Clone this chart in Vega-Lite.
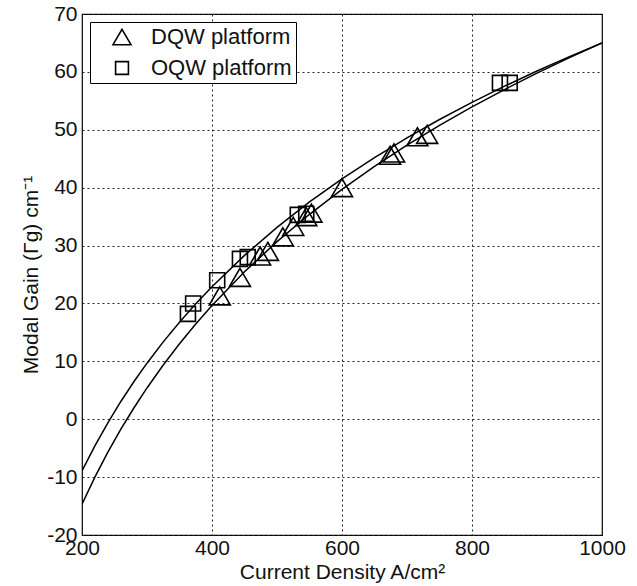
{
  "$schema": "https://vega.github.io/schema/vega-lite/v6.json",
  "width": 520,
  "height": 521,
  "autosize": {"type": "none"},
  "padding": {"left": 82, "top": 14, "right": 35, "bottom": 51},
  "background": "white",
  "datasets": {
    "curves": [
      {"fit": "OQW", "J": 200, "G": -8.94}, {"fit": "OQW", "J": 220, "G": -4.57}, {"fit": "OQW", "J": 240, "G": -0.57}, {"fit": "OQW", "J": 260, "G": 3.11}, {"fit": "OQW", "J": 280, "G": 6.51}, {"fit": "OQW", "J": 300, "G": 9.68}, {"fit": "OQW", "J": 325, "G": 13.36}, {"fit": "OQW", "J": 350, "G": 16.76}, {"fit": "OQW", "J": 375, "G": 19.93}, {"fit": "OQW", "J": 400, "G": 22.9}, {"fit": "OQW", "J": 450, "G": 28.31}, {"fit": "OQW", "J": 500, "G": 33.15}, {"fit": "OQW", "J": 550, "G": 37.53}, {"fit": "OQW", "J": 600, "G": 41.53}, {"fit": "OQW", "J": 650, "G": 45.2}, {"fit": "OQW", "J": 700, "G": 48.61}, {"fit": "OQW", "J": 750, "G": 51.78}, {"fit": "OQW", "J": 800, "G": 54.74}, {"fit": "OQW", "J": 850, "G": 57.53}, {"fit": "OQW", "J": 900, "G": 60.15}, {"fit": "OQW", "J": 950, "G": 62.64}, {"fit": "OQW", "J": 1000, "G": 65.0},
      {"fit": "DQW", "J": 200, "G": -14.67}, {"fit": "DQW", "J": 220, "G": -9.95}, {"fit": "DQW", "J": 240, "G": -5.65}, {"fit": "DQW", "J": 260, "G": -1.68}, {"fit": "DQW", "J": 280, "G": 1.98}, {"fit": "DQW", "J": 300, "G": 5.4}, {"fit": "DQW", "J": 325, "G": 9.36}, {"fit": "DQW", "J": 350, "G": 13.03}, {"fit": "DQW", "J": 375, "G": 16.44}, {"fit": "DQW", "J": 400, "G": 19.64}, {"fit": "DQW", "J": 450, "G": 25.47}, {"fit": "DQW", "J": 500, "G": 30.68}, {"fit": "DQW", "J": 550, "G": 35.4}, {"fit": "DQW", "J": 600, "G": 39.71}, {"fit": "DQW", "J": 650, "G": 43.67}, {"fit": "DQW", "J": 700, "G": 47.34}, {"fit": "DQW", "J": 750, "G": 50.76}, {"fit": "DQW", "J": 800, "G": 53.95}, {"fit": "DQW", "J": 850, "G": 56.95}, {"fit": "DQW", "J": 900, "G": 59.78}, {"fit": "DQW", "J": 950, "G": 62.46}, {"fit": "DQW", "J": 1000, "G": 65.0}
    ],
    "points": [
      {"platform": "DQW platform", "J": 412, "G": 21.3},
      {"platform": "DQW platform", "J": 443, "G": 24.5},
      {"platform": "DQW platform", "J": 474, "G": 28.2},
      {"platform": "DQW platform", "J": 486, "G": 29.0},
      {"platform": "DQW platform", "J": 509, "G": 31.5},
      {"platform": "DQW platform", "J": 525, "G": 33.3},
      {"platform": "DQW platform", "J": 545, "G": 35.0},
      {"platform": "DQW platform", "J": 553, "G": 35.6},
      {"platform": "DQW platform", "J": 600, "G": 40.0},
      {"platform": "DQW platform", "J": 674, "G": 45.6},
      {"platform": "DQW platform", "J": 680, "G": 46.0},
      {"platform": "DQW platform", "J": 716, "G": 48.8},
      {"platform": "DQW platform", "J": 731, "G": 49.2},
      {"platform": "OQW platform", "J": 363, "G": 18.2},
      {"platform": "OQW platform", "J": 371, "G": 20.0},
      {"platform": "OQW platform", "J": 408, "G": 24.0},
      {"platform": "OQW platform", "J": 443, "G": 27.7},
      {"platform": "OQW platform", "J": 455, "G": 28.0},
      {"platform": "OQW platform", "J": 532, "G": 35.3},
      {"platform": "OQW platform", "J": 545, "G": 35.5},
      {"platform": "OQW platform", "J": 843, "G": 58.1},
      {"platform": "OQW platform", "J": 858, "G": 58.1}
    ]
  },
  "config": {
    "font": "Liberation Sans",
    "view": {"stroke": "black", "strokeWidth": 1.2},
    "axis": {
      "grid": true,
      "gridColor": "#222222",
      "gridDash": [2, 3],
      "gridWidth": 1,
      "gridOpacity": 1,
      "domain": false,
      "ticks": false,
      "labelFont": "Liberation Sans",
      "labelFontSize": 21,
      "labelColor": "#111111",
      "titleFont": "Liberation Sans",
      "titleFontSize": 21,
      "titleFontWeight": "normal",
      "titleColor": "#111111"
    },
    "legend": {
      "orient": "top-left",
      "offset": 8,
      "strokeColor": "black",
      "fillColor": "white",
      "padding": 4,
      "labelFont": "Liberation Sans",
      "labelFontSize": 22,
      "labelColor": "#111111",
      "rowPadding": 9,
      "symbolSize": 165,
      "symbolStrokeWidth": 1.6,
      "symbolStrokeColor": "black",
      "symbolFillColor": "transparent",
      "symbolOffset": 17,
      "labelOffset": 18,
      "labelLimit": 300
    }
  },
  "layer": [
    {
      "data": {"name": "curves"},
      "mark": {"type": "line", "color": "black", "strokeWidth": 1.5, "clip": true},
      "encoding": {
        "x": {
          "field": "J", "type": "quantitative",
          "scale": {"domain": [200, 1000], "nice": false},
          "axis": {"values": [200, 400, 600, 800, 1000], "labelExpr": "'' + datum.value", "title": "Current Density A/cm²", "labelPadding": 2, "titlePadding": 3, "labelFlush": false, "labelOverlap": false}
        },
        "y": {
          "field": "G", "type": "quantitative",
          "scale": {"domain": [-20, 70], "nice": false},
          "axis": {"values": [-20, -10, 0, 10, 20, 30, 40, 50, 60, 70], "labelExpr": "'' + datum.value", "title": "Modal Gain (Γg) cm⁻¹", "labelPadding": 5, "titlePadding": 5, "labelFlush": false, "labelOverlap": false}
        },
        "detail": {"field": "fit", "type": "nominal"},
        "order": {"field": "J", "type": "quantitative"}
      }
    },
    {
      "data": {"name": "points"},
      "mark": {"type": "point", "filled": false, "color": "black", "strokeWidth": 1.6, "size": 225, "opacity": 1},
      "encoding": {
        "x": {"field": "J", "type": "quantitative"},
        "y": {"field": "G", "type": "quantitative"},
        "shape": {
          "field": "platform", "type": "nominal",
          "scale": {"domain": ["DQW platform", "OQW platform"], "range": ["M0,-1.2L1.4,1.2L-1.4,1.2Z", "square"]},
          "legend": {"title": null}
        }
      }
    }
  ]
}
